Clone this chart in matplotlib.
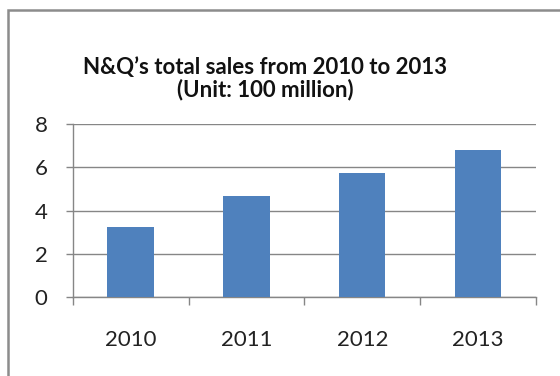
import matplotlib.pyplot as plt
from matplotlib.patches import Rectangle
from matplotlib.ticker import FixedLocator

# sales per year, unit: 100 million
years = ['2010', '2011', '2012', '2013']
sales = [3.24, 4.66, 5.74, 6.81]

plt.rcParams['font.family'] = ['Lato', 'DejaVu Sans']

fig = plt.figure(figsize=(5.6, 3.76), dpi=100)
ax = fig.add_axes([0.1298, 0.2109, 0.8274, 0.4585])

x = list(range(len(years)))
ax.bar(x, sales, width=0.4, color='#4f81bd', zorder=3)

ax.set_xlim(-0.5, len(years) - 0.5)
ax.set_ylim(0, 8)
ax.set_yticks([0, 2, 4, 6, 8])
ax.yaxis.grid(True, color='#868686', linewidth=1)
ax.set_axisbelow(True)

ax.set_xticks(x)
ax.set_xticklabels(years)
ax.xaxis.set_minor_locator(FixedLocator([i - 0.5 for i in range(len(years) + 1)]))
ax.tick_params(axis='x', which='major', length=0, pad=24, labelsize=16, labelcolor='#222222')
ax.tick_params(axis='x', which='minor', length=6, width=1, color='#868686')
ax.tick_params(axis='y', length=5, width=1, color='#868686', pad=13, labelsize=16, labelcolor='#222222')

for s in ['top', 'right']:
    ax.spines[s].set_visible(False)
for s in ['left', 'bottom']:
    ax.spines[s].set_color('#868686')
    ax.spines[s].set_linewidth(1)

fig.text(0.473, 0.821, 'N&Q\u2019s total sales from 2010 to 2013',
         ha='center', va='center', fontsize=16, fontweight='bold', color='#111111')
fig.text(0.473, 0.761, '(Unit: 100 million)',
         ha='center', va='center', fontsize=16, fontweight='bold', color='#111111')

# chart border
fig.patches.append(Rectangle((8 / 560, -0.1), 1.2, 1.1 - 9.5 / 376,
                             transform=fig.transFigure, fill=False,
                             edgecolor='#8c8c8c', linewidth=1.8))

fig.savefig('out.png', dpi=100)
